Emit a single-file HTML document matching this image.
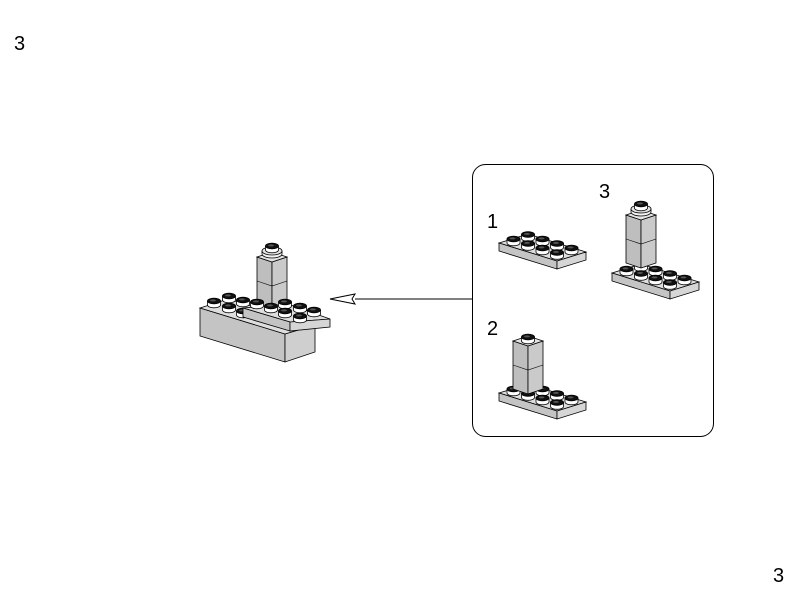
<!DOCTYPE html>
<html><head><meta charset="utf-8"><style>
html,body{margin:0;padding:0;background:#fff;}
svg{display:block}
text{font-family:"Liberation Sans",sans-serif;font-size:20px;fill:#000}
</style></head><body>
<svg width="800" height="600" viewBox="0 0 800 600" xmlns="http://www.w3.org/2000/svg">
<defs>
<g id="stud">
<path d="M-6.5,-4 L-6.5,0 A6.5,2.8 0 0 0 6.5,0 L6.5,-4 Z" fill="#fff" stroke="#000" stroke-width="0.8"/>
<ellipse cx="0" cy="-4" rx="6.5" ry="2.8" fill="#111" stroke="#000" stroke-width="0.8"/>
<ellipse cx="-1" cy="-4.6" rx="3" ry="1" fill="#555"/>
</g>
<g id="plate">
<polygon points="0,0 58,18 87,9 29,-9" fill="#dedede" stroke="#000" stroke-width="0.8"/>
<polygon points="0,0 58,18 58,26 0,8" fill="#c4c4c4" stroke="#000" stroke-width="0.8"/>
<polygon points="58,18 87,9 87,17 58,26" fill="#d6d6d6" stroke="#000" stroke-width="0.8"/>
<use href="#stud" x="29" y="-4.5"/><use href="#stud" x="43.5" y="0"/><use href="#stud" x="58" y="4.5"/><use href="#stud" x="72.5" y="9"/>
<use href="#stud" x="14.5" y="0"/><use href="#stud" x="29" y="4.5"/><use href="#stud" x="43.5" y="9"/><use href="#stud" x="58" y="13.5"/>
</g>
<g id="col">
<polygon points="0,0 15,5 15,53 0,48" fill="#bebebe" stroke="#000" stroke-width="0.8"/>
<polygon points="15,5 30,0 30,48 15,53" fill="#cacaca" stroke="#000" stroke-width="0.8"/>
<polygon points="0,0 15,-5 30,0 15,5" fill="#e4e4e4" stroke="#000" stroke-width="0.8"/>
<polyline points="0,24 15,29 30,24" fill="none" stroke="#000" stroke-width="0.6"/>
</g>
<g id="cap">
<path d="M-10,-3 L-10,0 A10,4 0 0 0 10,0 L10,-3 Z" fill="#f2f2f2" stroke="#000" stroke-width="0.8"/>
<ellipse cx="0" cy="-3" rx="10" ry="4" fill="#e4e4e4" stroke="#000" stroke-width="0.8"/>
<use href="#stud" x="0" y="-4"/>
</g>
</defs>

<text x="14" y="50">3</text>
<text x="773" y="582">3</text>

<rect x="472.5" y="164.5" width="241" height="272" rx="13" fill="#fff" stroke="#000" stroke-width="1"/>
<text x="487" y="228">1</text>
<text x="487" y="335">2</text>
<text x="599" y="198">3</text>

<use href="#plate" x="499" y="243"/>

<use href="#plate" x="499" y="393"/>
<use href="#col" x="513" y="341"/>
<use href="#stud" x="528" y="341"/>

<use href="#plate" x="612" y="273"/>
<use href="#col" x="626" y="215"/>
<use href="#cap" x="641" y="212"/>

<line x1="355" y1="299" x2="472" y2="299" stroke="#000" stroke-width="1"/>
<polygon points="330,299 355,294 352,299 355,304" fill="#fff" stroke="#000" stroke-width="1"/>

<polygon points="200,308 285,334 285,362 200,336" fill="#c4c4c4" stroke="#000" stroke-width="0.8"/>
<polygon points="285,334 315,325 315,352 285,362" fill="#cfcfcf" stroke="#000" stroke-width="0.8"/>
<polygon points="200,308 228,299 315,325 285,334" fill="#dedede" stroke="#000" stroke-width="0.8"/>
<use href="#stud" x="229" y="300"/><use href="#stud" x="243" y="304"/>
<use href="#stud" x="214" y="305"/><use href="#stud" x="229" y="310"/><use href="#stud" x="243" y="315"/>
<use href="#col" x="257" y="257"/>
<use href="#cap" x="272" y="254"/>
<polygon points="243,308 290,322 330,319 288,304" fill="#dedede" stroke="#000" stroke-width="0.8"/>
<polygon points="243,308 290,322 290,331 243,317" fill="#c4c4c4" stroke="#000" stroke-width="0.8"/>
<polygon points="290,322 330,319 330,327 290,331" fill="#d6d6d6" stroke="#000" stroke-width="0.8"/>
<use href="#stud" x="285" y="306"/><use href="#stud" x="300" y="310"/><use href="#stud" x="314" y="314"/>
<use href="#stud" x="257" y="306"/><use href="#stud" x="271" y="310"/><use href="#stud" x="285" y="315"/><use href="#stud" x="300" y="320"/>
</svg>
</body></html>
